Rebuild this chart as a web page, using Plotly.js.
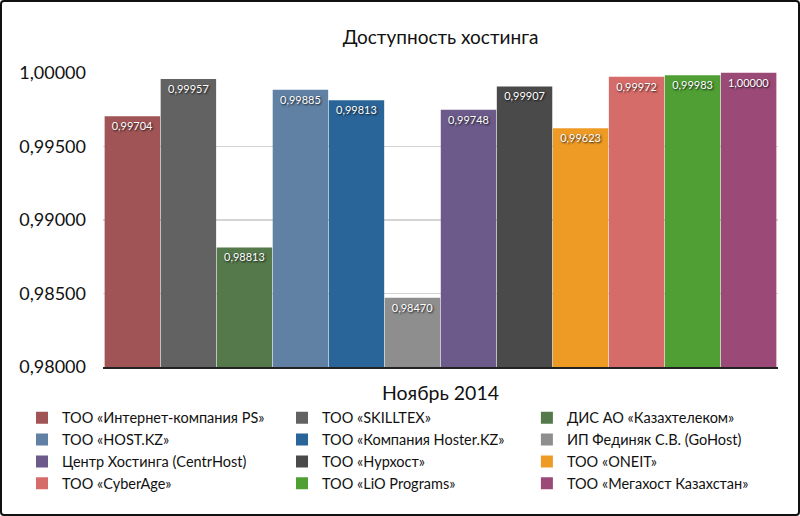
<!DOCTYPE html>
<html>
<head>
<meta charset="utf-8">
<script src="https://cdn.plot.ly/plotly-3.0.1.min.js"></script>
<style>
html,body{margin:0;padding:0;background:#fff;}
#wrap{position:relative;width:800px;height:516px;}
#chart{width:800px;height:516px;}
#frame{position:absolute;left:0;top:0;width:796px;height:512px;border:2px solid #111;border-radius:4px;pointer-events:none;}
</style>
</head>
<body>
<div id="wrap"><div id="chart"></div><div id="frame"></div></div>
<script>
const category = ['Ноябрь 2014'];
const companies = [
  'ТОО «Интернет-компания PS»',
  'ТОО «SKILLTEX»',
  'ДИС АО «Казахтелеком»',
  'ТОО «HOST.KZ»',
  'ТОО «Компания Hoster.KZ»',
  'ИП Фединяк С.В. (GoHost)',
  'Центр Хостинга (CentrHost)',
  'ТОО «Нурхост»',
  'ТОО «ONEIT»',
  'ТОО «CyberAge»',
  'ТОО «LiO Programs»',
  'ТОО «Мегахост Казахстан»'
];
const availability = [0.99704, 0.99957, 0.98813, 0.99885, 0.99813, 0.98470, 0.99748, 0.99907, 0.99623, 0.99972, 0.99983, 1.00000];
const colors = ['#a05456', '#626262', '#55794b', '#6080a4', '#2a659a', '#8e8e8e', '#6b5a8a', '#4a4a4a', '#ee9b26', '#d66c6a', '#4f9f35', '#9b4a78'];
const yTicks = [0.98, 0.985, 0.99, 0.995, 1.0];

const FONT = 'Lato, "Open Sans", sans-serif';
const legendIds = ['legend', 'legend2', 'legend3'];

const traces = companies.map((name, i) => ({
  type: 'bar',
  name: name,
  x: category,
  y: [availability[i]],
  legend: legendIds[i % 3],
  marker: {color: colors[i], line: {width: 0}},
  texttemplate: '%{y:.5f}',
  textposition: 'inside',
  insidetextanchor: 'end',
  textangle: 0,
  textfont: {color: '#ffffff', size: 11, family: FONT, shadow: '1px 1px 2px rgba(0,0,0,0.85)'},
  hoverinfo: 'name+y'
}));

function legendAt(x) {
  return {
    orientation: 'v', x: x, xanchor: 'left', xref: 'paper', y: -0.118, yanchor: 'top', yref: 'paper',
    traceorder: 'normal', bgcolor: 'rgba(0,0,0,0)',
    font: {size: 14.5, family: FONT, color: '#111'}, itemsizing: 'constant', tracegroupgap: 0
  };
}

const layout = {
  width: 800, height: 516,
  paper_bgcolor: '#ffffff', plot_bgcolor: '#ffffff',
  separators: ', ',
  font: {family: FONT, color: '#111'},
  margin: {l: 103, r: 22, t: 72, b: 149, autoexpand: false},
  title: {text: 'Доступность хостинга', font: {size: 19, family: FONT, color: '#111'},
          xref: 'paper', x: 0.5, xanchor: 'center', yref: 'container', y: 1 - 37/516, yanchor: 'middle'},
  barmode: 'group', bargap: 0.004, bargroupgap: 0.01,
  xaxis: {
    type: 'category', showgrid: false, showline: true, linecolor: '#222', linewidth: 1.5,
    ticks: '', tickfont: {size: 19.5, family: FONT, color: '#111'}, ticklabelstandoff: 8
  },
  yaxis: {
    range: [0.98, 1.00005], tickvals: yTicks, tickformat: '.5f',
    showgrid: true, gridcolor: '#d4d4d4', gridwidth: 1.5, zeroline: false, showline: false,
    ticks: '', tickfont: {size: 18, family: FONT, color: '#111'}, ticklabelstandoff: 16
  },
  showlegend: true,
  legend: legendAt(-0.12),
  legend2: legendAt(0.2652),
  legend3: legendAt(0.628)
};

Plotly.newPlot('chart', traces, layout, {displayModeBar: false, staticPlot: true});
</script>
</body>
</html>
